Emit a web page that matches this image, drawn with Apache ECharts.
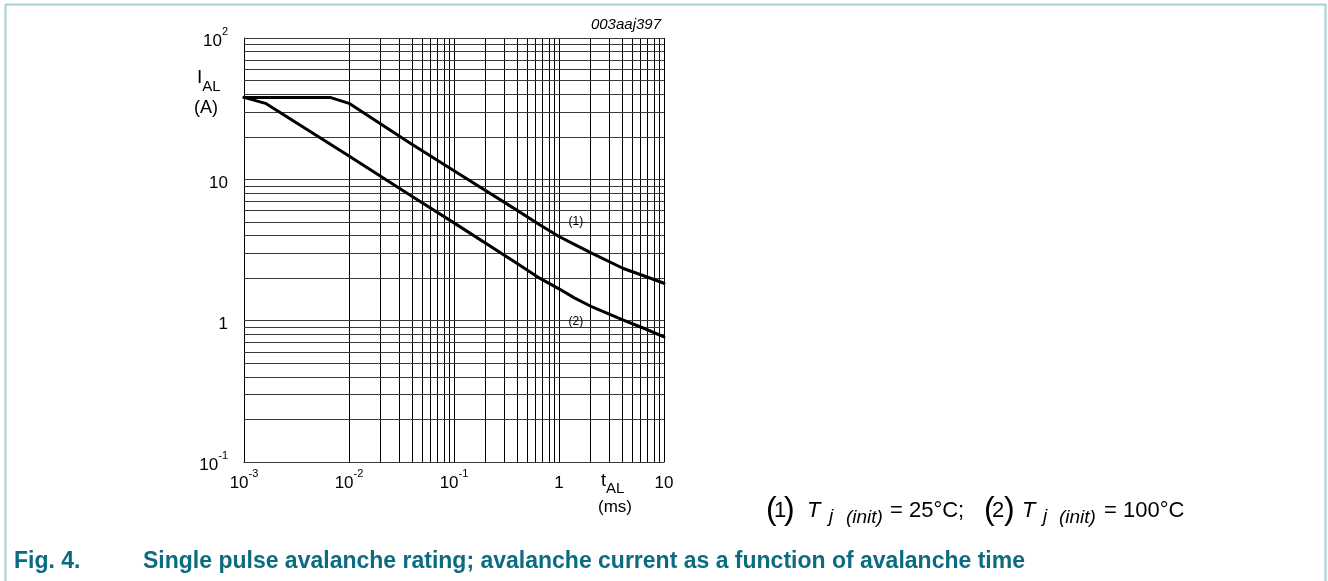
<!DOCTYPE html>
<html>
<head>
<meta charset="utf-8">
<script src="https://cdn.jsdelivr.net/npm/echarts@6/dist/echarts.min.js"></script>
<style>
html,body{margin:0;padding:0;background:#fff;}
#c{width:1328px;height:581px;}
</style>
</head>
<body>
<div id="c"></div>
<script>
// ---- data (t in ms, I in A) ----
const curve1 = [[0.001, 38], [0.0066, 38], [0.01, 34.5], [0.038, 18.1], [0.1, 11.5], [0.4, 6.03], [0.66, 4.75], [1, 3.94], [1.4, 3.47], [2.07, 2.99], [4.1, 2.34], [6.5, 2.07], [10, 1.84]];
const curve2 = [[0.001, 38], [0.0016, 34.5], [0.01, 14.6], [0.038, 7.74], [0.1, 4.92], [0.4, 2.54], [0.66, 1.99], [1, 1.68], [1.4, 1.45], [2.07, 1.25], [4.1, 1.01], [6.5, 0.88], [10, 0.769]];
const curveNames = ['(1)', '(2)'];
const curveLabelPos = [[1.45, 5.0], [1.45, 0.977]];

// tick labels
const xTickLabels = {'-3': '{b|10}{s|-3}', '-2': '{b|10}{s|-2}', '-1': '{b|10}{s|-1}', '0': '{b|1}', '1': '{b|10}'};
const yTickLabels = {'-1': '{b|10}{s|-1}', '0': '{b|1}', '1': '{b|10}', '2': '{b|10}{s|2}'};

// grid line positions
const xGridLines = [0.001,0.002,0.003,0.004,0.005,0.006,0.007,0.008,0.009,
  0.01,0.02,0.03,0.04,0.05,0.06,0.07,0.08,0.09,
  0.1,0.2,0.3,0.4,0.5,0.6,0.7,0.8,0.9,
  1,2,3,4,5,6,7,8,9,10];
const yGridLines = [0.1,0.2,0.3,0.4,0.5,0.6,0.7,0.8,0.9,
  1,2,3,4,5,6,7,8,9,
  10,20,30,40,50,60,70,80,90,100];

const FONT = '"Liberation Sans", Arial, Helvetica, sans-serif';
const chart = echarts.init(document.getElementById('c'), null, {renderer: 'canvas'});

const richLbl = {
  b: {fontSize: 17, lineHeight: 24, verticalAlign: 'bottom', fontFamily: FONT, color: '#000'},
  s: {fontSize: 11, lineHeight: 12, verticalAlign: 'top', fontFamily: FONT, color: '#000'}
};

const gridMark = {
  silent: true,
  symbol: ['none', 'none'],
  label: {show: false},
  animation: false,
  data: [
    ...xGridLines.map(v => ({xAxis: v, lineStyle: {color: '#000', width: 1, type: 'solid'}})),
    ...yGridLines.map(v => ({yAxis: v, lineStyle: {color: '#3a3a3a', width: 1, type: 'solid'}}))
  ]
};

const curveStyle = {color: '#000', width: 3, join: 'round', cap: 'round'};

const option = {
  animation: false,
  backgroundColor: '#fff',
  grid: {left: 244, top: 38, width: 420, height: 424, show: false},
  xAxis: {
    type: 'log', logBase: 10, min: 0.001, max: 10,
    axisLine: {show: true, lineStyle: {color: '#000', width: 1}},
    axisTick: {show: false},
    splitLine: {show: false},
    minorSplitLine: {show: false},
    axisLabel: {
      margin: 6, fontFamily: FONT, color: '#000',
      formatter: v => xTickLabels[String(Math.round(Math.log10(v)))] || '',
      rich: richLbl
    }
  },
  yAxis: {
    type: 'log', logBase: 10, min: 0.1, max: 100,
    axisLine: {show: true, lineStyle: {color: '#000', width: 1}},
    axisTick: {show: false},
    splitLine: {show: false},
    axisLabel: {
      margin: 16, fontFamily: FONT, color: '#000',
      formatter: v => yTickLabels[String(Math.round(Math.log10(v)))] || '',
      rich: richLbl
    }
  },
  series: [
    {
      type: 'line', name: 'grid', data: [[0.001, 0.1]], showSymbol: false, symbol: 'none',
      lineStyle: {opacity: 0}, silent: true, z: 1,
      markLine: gridMark
    },
    {
      type: 'line', name: curveNames[0], data: curve1, showSymbol: false, symbol: 'none', z: 5,
      lineStyle: curveStyle, silent: true,
      markPoint: {
        symbol: 'circle', symbolSize: 0, silent: true,
        label: {show: true, formatter: curveNames[0], color: '#000', fontSize: 12, fontFamily: FONT, position: 'inside'},
        data: [{coord: curveLabelPos[0]}]
      }
    },
    {
      type: 'line', name: curveNames[1], data: curve2, showSymbol: false, symbol: 'none', z: 5,
      lineStyle: curveStyle, silent: true,
      markPoint: {
        symbol: 'circle', symbolSize: 0, silent: true,
        label: {show: true, formatter: curveNames[1], color: '#000', fontSize: 12, fontFamily: FONT, position: 'inside'},
        data: [{coord: curveLabelPos[1]}]
      }
    }
  ],
  graphic: [
    // frame
    {type: 'line', shape: {x1: 5.5, y1: 4.5, x2: 1325.5, y2: 4.5}, style: {stroke: '#a6d0d6', lineWidth: 2}, silent: true},
    {type: 'line', shape: {x1: 5.5, y1: 4, x2: 5.5, y2: 581}, style: {stroke: '#a6d0d6', lineWidth: 2}, silent: true},
    {type: 'line', shape: {x1: 1325.5, y1: 4, x2: 1325.5, y2: 581}, style: {stroke: '#a6d0d6', lineWidth: 2}, silent: true},
    // figure id
    {type: 'text', x: 661, y: 25, silent: true,
      style: {text: '003aaj397', font: 'italic 15px ' + FONT, fill: '#000', align: 'right', verticalAlign: 'middle'}},
    // y axis title
    {type: 'text', x: 197, y: 94, silent: true,
      style: {text: '{m|I}{sub|AL}', align: 'left', verticalAlign: 'bottom',
        rich: {m: {fontSize: 19, fontFamily: FONT, fill: '#000', lineHeight: 26, verticalAlign: 'top'},
               sub: {fontSize: 15, fontFamily: FONT, fill: '#000', lineHeight: 16, verticalAlign: 'bottom'}}}},
    {type: 'text', x: 194, y: 108, silent: true,
      style: {text: '(A)', font: '18px ' + FONT, fill: '#000', align: 'left', verticalAlign: 'middle'}},
    // x axis title
    {type: 'text', x: 601, y: 496, silent: true,
      style: {text: '{m|t}{sub|AL}', align: 'left', verticalAlign: 'bottom',
        rich: {m: {fontSize: 18, fontFamily: FONT, fill: '#000', lineHeight: 24, verticalAlign: 'top'},
               sub: {fontSize: 15, fontFamily: FONT, fill: '#000', lineHeight: 16, verticalAlign: 'bottom'}}}},
    {type: 'text', x: 615, y: 507, silent: true,
      style: {text: '(ms)', font: '17px ' + FONT, fill: '#000', align: 'center', verticalAlign: 'middle'}},
    // legend notes
    {type: 'text', x: 766, y: 510, silent: true,
      style: {text: '(', font: '32px ' + FONT, fill: '#000', verticalAlign: 'middle'}},
    {type: 'text', x: 774, y: 511, silent: true,
      style: {text: '1', font: '22px ' + FONT, fill: '#000', verticalAlign: 'middle'}},
    {type: 'text', x: 784, y: 510, silent: true,
      style: {text: ')', font: '32px ' + FONT, fill: '#000', verticalAlign: 'middle'}},
    {type: 'text', x: 807, y: 511, silent: true,
      style: {text: 'T', font: 'italic 22px ' + FONT, fill: '#000', verticalAlign: 'middle'}},
    {type: 'text', x: 829, y: 517, silent: true,
      style: {text: 'j', font: 'italic 19px ' + FONT, fill: '#000', verticalAlign: 'middle'}},
    {type: 'text', x: 846, y: 518, silent: true,
      style: {text: '(init)', font: 'italic 19px ' + FONT, fill: '#000', verticalAlign: 'middle'}},
    {type: 'text', x: 890, y: 511, silent: true,
      style: {text: '= 25°C;', font: '22px ' + FONT, fill: '#000', verticalAlign: 'middle'}},
    {type: 'text', x: 984, y: 510, silent: true,
      style: {text: '(', font: '32px ' + FONT, fill: '#000', verticalAlign: 'middle'}},
    {type: 'text', x: 992, y: 511, silent: true,
      style: {text: '2', font: '22px ' + FONT, fill: '#000', verticalAlign: 'middle'}},
    {type: 'text', x: 1004, y: 510, silent: true,
      style: {text: ')', font: '32px ' + FONT, fill: '#000', verticalAlign: 'middle'}},
    {type: 'text', x: 1022, y: 511, silent: true,
      style: {text: 'T', font: 'italic 22px ' + FONT, fill: '#000', verticalAlign: 'middle'}},
    {type: 'text', x: 1043, y: 517, silent: true,
      style: {text: 'j', font: 'italic 19px ' + FONT, fill: '#000', verticalAlign: 'middle'}},
    {type: 'text', x: 1059, y: 518, silent: true,
      style: {text: '(init)', font: 'italic 19px ' + FONT, fill: '#000', verticalAlign: 'middle'}},
    {type: 'text', x: 1104, y: 511, silent: true,
      style: {text: '= 100°C', font: '22px ' + FONT, fill: '#000', verticalAlign: 'middle'}},
    // caption
    {type: 'text', x: 14, y: 562, silent: true,
      style: {text: 'Fig. 4.', font: 'bold 23px ' + FONT, fill: '#0b6b80', verticalAlign: 'middle'}},
    {type: 'text', x: 143, y: 562, silent: true,
      style: {text: 'Single pulse avalanche rating; avalanche current as a function of avalanche time', font: 'bold 23px ' + FONT, fill: '#0b6b80', verticalAlign: 'middle'}}
  ]
};
chart.setOption(option);
</script>
</body>
</html>
